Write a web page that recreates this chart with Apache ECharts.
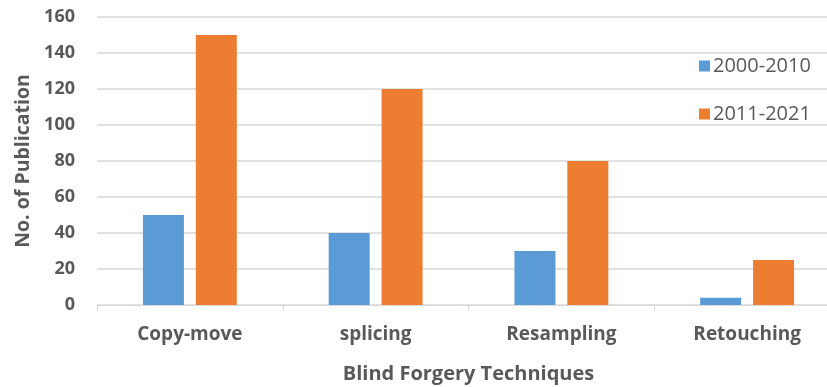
<!DOCTYPE html>
<html>
<head>
<meta charset="utf-8">
<script src="https://cdn.jsdelivr.net/npm/echarts@6/dist/echarts.min.js"></script>
<style>
html,body{margin:0;padding:0;background:#fff;}
#chart{width:827px;height:387px;}
</style>
</head>
<body>
<div id="chart"></div>
<script>
const categories = ['Copy-move', 'splicing', 'Resampling', 'Retouching'];
const series2000_2010 = [50, 40, 30, 4];
const series2011_2021 = [150, 120, 80, 25];
const seriesNames = ['2000-2010', '2011-2021'];
const yTicks = [0, 20, 40, 60, 80, 100, 120, 140, 160];

const FONT = 'Open Sans';
const TXT = '#595959';
const chart = echarts.init(document.getElementById('chart'), null, {renderer: 'canvas'});
chart.setOption({
  animation: false,
  backgroundColor: '#fff',
  textStyle: {fontFamily: FONT},
  grid: {left: 97, top: 17, width: 743, bottom: 82, outerBoundsMode: 'none', containLabel: false},
  legend: {
    orient: 'vertical', left: 694, top: 51,
    itemWidth: 11, itemHeight: 11, itemGap: 28, icon: 'rect',
    textStyle: {fontFamily: FONT, fontSize: 20, color: TXT, padding: [0,0,0,-2]},
    data: seriesNames
  },
  xAxis: {
    type: 'category', data: categories,
    axisLine: {lineStyle: {color: '#d9d9d9', width: 1}},
    axisTick: {show: true, length: 6, lineStyle: {color: '#d9d9d9'}},
    axisLabel: {fontFamily: FONT, fontSize: 19, fontWeight: 'bold', color: TXT, margin: 20},
    name: 'Blind Forgery Techniques', nameLocation: 'middle', nameGap: 59,
    nameTextStyle: {fontFamily: FONT, fontSize: 20, fontWeight: 'bold', color: TXT}
  },
  yAxis: {
    type: 'value', min: yTicks[0], max: yTicks[yTicks.length-1], interval: 20,
    axisLine: {show: false}, axisTick: {show: false},
    splitLine: {lineStyle: {color: '#d9d9d9', width: 1.5}},
    axisLabel: {fontFamily: FONT, fontSize: 18, fontWeight: 'bold', color: TXT, margin: 22},
    name: 'No. of Publication', nameLocation: 'middle', nameGap: 63, nameRotate: 90,
    nameTextStyle: {fontFamily: FONT, fontSize: 19.5, fontWeight: 'bold', color: TXT}
  },
  series: [
    {name: seriesNames[0], type: 'bar', data: series2000_2010, barWidth: 41, barGap: '29%',
     itemStyle: {color: '#5b9bd5'}},
    {name: seriesNames[1], type: 'bar', data: series2011_2021, barWidth: 41, barGap: '29%',
     itemStyle: {color: '#ed7d31'}}
  ]
});
</script>
</body>
</html>
